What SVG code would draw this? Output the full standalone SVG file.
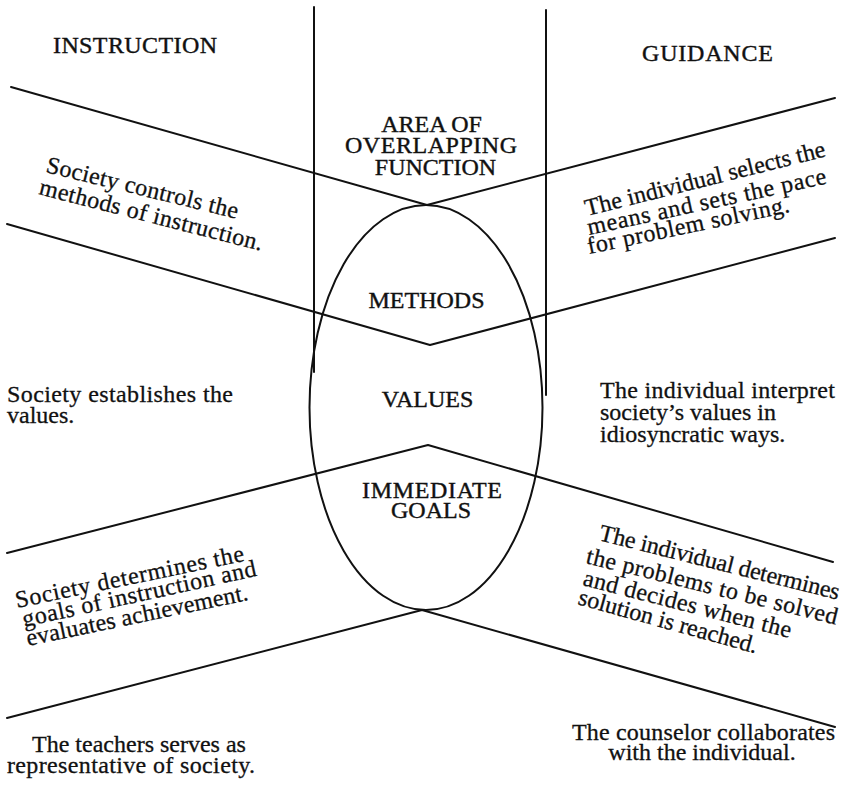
<svg xmlns="http://www.w3.org/2000/svg" width="851" height="789" viewBox="0 0 851 789">
  <style>
    .ln { fill: none; stroke: #111; stroke-width: 2; stroke-linejoin: round; stroke-linecap: round; }
    .hd { font-family: "Liberation Serif", "Times New Roman", serif; font-size: 24px; fill: #111; stroke: #111; stroke-width: 0.4; text-anchor: middle; }
    .tx { font-family: "Liberation Serif", "Times New Roman", serif; font-size: 24px; fill: #111; stroke: #111; stroke-width: 0.3; }
    .mid { text-anchor: middle; }
  </style>
  <rect width="851" height="789" fill="#fff"/>

  <!-- connectors: column rules and the four bands -->
  <g id="connectors">
    <line class="ln" x1="314" y1="7" x2="314" y2="372"/>
    <line class="ln" x1="546" y1="10" x2="546" y2="395"/>
    <polyline class="ln" points="11,87 427,205 835,98"/>
    <polyline class="ln" points="7,224 430,345 835,238"/>
    <polyline class="ln" points="7,553 428,445 833,562"/>
    <polyline class="ln" points="7,718 422,610 835,727"/>
  </g>

  <!-- central overlap ellipse -->
  <g id="overlap">
    <ellipse class="ln" cx="426" cy="407.5" rx="116.5" ry="202.5"/>
    <text class="hd" x="431.5" y="132">AREA OF</text>
    <text class="hd" x="431" y="153" textLength="172">OVERLAPPING</text>
    <text class="hd" x="435.5" y="175">FUNCTION</text>
  </g>
  <g id="methods"><text class="hd" x="426.5" y="308">METHODS</text></g>
  <g id="values"><text class="hd" x="427.5" y="407">VALUES</text></g>
  <g id="goals">
    <text class="hd" x="432" y="498" textLength="140">IMMEDIATE</text>
    <text class="hd" x="431" y="518">GOALS</text>
  </g>

  <!-- column headings -->
  <g id="instruction"><text class="hd" x="135" y="53" textLength="164">INSTRUCTION</text></g>
  <g id="guidance"><text class="hd" x="707.5" y="61" textLength="131">GUIDANCE</text></g>

  <!-- instruction side -->
  <g id="instr-methods">
    <text class="tx" transform="translate(45,172) rotate(13.7)" textLength="197">Society controls the</text>
    <text class="tx" transform="translate(38,194) rotate(14.3)" textLength="230">methods of instruction.</text>
  </g>
  <g id="instr-values">
    <text class="tx" x="7" y="402" textLength="226">Society establishes the</text>
    <text class="tx" x="7" y="423">values.</text>
  </g>
  <g id="instr-goals">
    <text class="tx" transform="translate(17,608) rotate(-11.7)" textLength="233">Society determines the</text>
    <text class="tx" transform="translate(24,627) rotate(-12.4)" textLength="239">goals of instruction and</text>
    <text class="tx" transform="translate(28,646) rotate(-11.8)" textLength="226">evaluates achievement.</text>
  </g>
  <g id="instr-role">
    <text class="tx mid" x="139" y="752">The teachers serves as</text>
    <text class="tx mid" x="131" y="773" textLength="248">representative of society.</text>
  </g>

  <!-- guidance side -->
  <g id="guid-methods">
    <text class="tx" transform="translate(587,216) rotate(-14)" textLength="247">The individual selects the</text>
    <text class="tx" transform="translate(589,235) rotate(-12.2)" textLength="244">means and sets the pace</text>
    <text class="tx" transform="translate(589,254) rotate(-11.8)" textLength="206">for problem solving.</text>
  </g>
  <g id="guid-values">
    <text class="tx" x="600" y="398" textLength="235">The individual interpret</text>
    <text class="tx" x="600" y="420">society’s values in</text>
    <text class="tx" x="600" y="442">idiosyncratic ways.</text>
  </g>
  <g id="guid-goals">
    <text class="tx" transform="translate(598,540) rotate(14)" textLength="247">The individual determines</text>
    <text class="tx" transform="translate(585,563) rotate(13.8)" textLength="258">the problems to be solved</text>
    <text class="tx" transform="translate(582,585) rotate(14.3)" textLength="214">and decides when the</text>
    <text class="tx" transform="translate(577,604) rotate(15.5)" textLength="185">solution is reached.</text>
  </g>
  <g id="guid-role">
    <text class="tx mid" x="703.5" y="740" textLength="263">The counselor collaborates</text>
    <text class="tx mid" x="702" y="760">with the individual.</text>
  </g>
</svg>
